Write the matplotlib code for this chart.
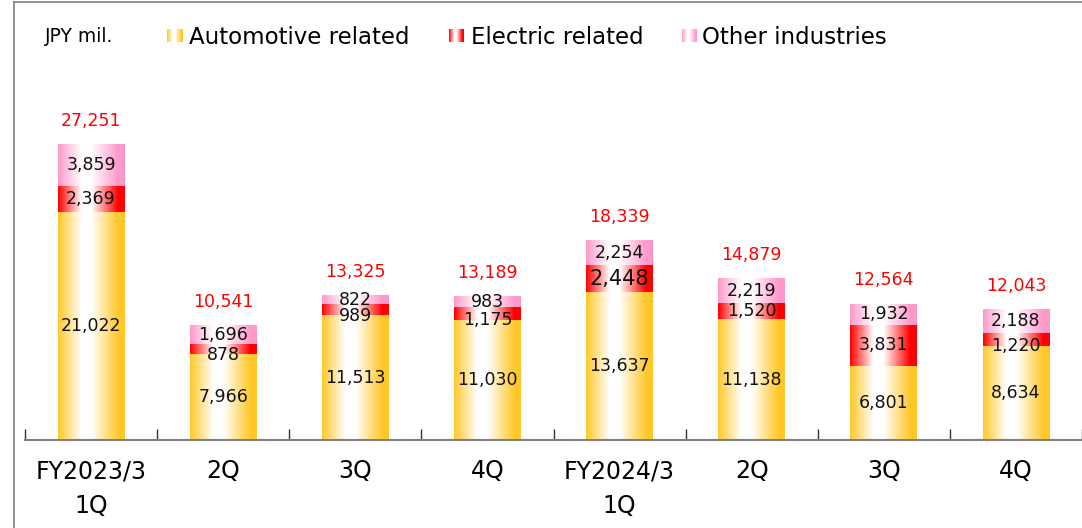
import numpy as np
import matplotlib
matplotlib.use("Agg")
import matplotlib.pyplot as plt
from matplotlib.colors import LinearSegmentedColormap
from matplotlib.lines import Line2D

# data (JPY mil.)
categories = ["FY2023/3\n1Q", "2Q", "3Q", "4Q", "FY2024/3\n1Q", "2Q", "3Q", "4Q"]
automotive = [21022, 7966, 11513, 11030, 13637, 11138, 6801, 8634]
electric = [2369, 878, 989, 1175, 2448, 1520, 3831, 1220]
other = [3859, 1696, 822, 983, 2254, 2219, 1932, 2188]
totals = [27251, 10541, 13325, 13189, 18339, 14879, 12564, 12043]

series_names = ["Automotive related", "Electric related", "Other industries"]
series_colors = ["#FFC82A", "#FF0000", "#FF99CC"]


def grad_cmap(c):
    return LinearSegmentedColormap.from_list(
        "g", [(0, c), (0.35, "white"), (0.5, "white"), (0.9, c), (1, c)])


grad = np.linspace(0, 1, 256).reshape(1, -1)

fig = plt.figure(figsize=(10.82, 5.28), dpi=100)
ax = fig.add_axes([25 / 1082, 88 / 528, 1057 / 1082, 380 / 528])

x = np.arange(len(categories))
width = 0.505
containers = []
bottom = np.zeros(len(categories))
for vals, col in zip([automotive, electric, other], series_colors):
    bc = ax.bar(x, vals, width, bottom=bottom, color="none", edgecolor="none")
    cmap = grad_cmap(col)
    for r in bc:
        x0, y0 = r.get_x(), r.get_y()
        ax.imshow(grad, cmap=cmap, aspect="auto", interpolation="bilinear",
                  extent=[x0, x0 + r.get_width(), y0, y0 + r.get_height()],
                  zorder=1)
    containers.append(bc)
    bottom += np.array(vals)

ax.set_xlim(-0.5, 7.477)
ax.set_ylim(0, 35000)

# segment labels
for k, (bc, vals) in enumerate(zip(containers, [automotive, electric, other])):
    texts = ax.bar_label(bc, labels=[f"{v:,}" for v in vals], label_type="center",
                         fontsize=12.5, color="#111111", zorder=3)
    for t, v in zip(texts, vals):
        if t.get_text() == "2,448":
            t.set_fontsize(15)
        # small electric segments: label sits a little lower, as in the original
        if k == 1 and v < 1300:
            t.xyann = (t.xyann[0], t.xyann[1] - 4.5)

# totals in red above each bar
for xi, top, tot in zip(x, bottom, totals):
    ax.annotate(f"{tot:,}", (xi, top), xytext=(0, 17), textcoords="offset points",
                ha="center", va="center", color="#FF0000", fontsize=12.5)

for s in ["left", "right", "top"]:
    ax.spines[s].set_visible(False)
ax.spines["bottom"].set_color("#7f7f7f")
ax.spines["bottom"].set_linewidth(1.5)
ax.set_yticks([])
ax.set_xticks(x)
ax.set_xticklabels(categories, fontsize=17, linespacing=1.55)
ax.tick_params(axis="x", length=0, pad=14)
ax.set_xticks(np.arange(-0.5, 8, 1), minor=True)
ax.tick_params(axis="x", which="minor", direction="in", length=8, width=1,
               color="#333333")

# frame around the chart area
fig.add_artist(Line2D([14 / 1082, 14 / 1082], [0, 1 - 2 / 528],
                      transform=fig.transFigure, color="#7f7f7f", lw=1.2))
fig.add_artist(Line2D([14 / 1082, 1], [1 - 2 / 528, 1 - 2 / 528],
                      transform=fig.transFigure, color="#7f7f7f", lw=1.2))

# legend drawn by hand
ly = 1 - 37 / 528
fig.text(45 / 1082, ly, "JPY mil.", fontsize=13.5, va="center", ha="left")
marker_x = [167, 449, 682]
text_x = [189, 471, 702]
for mx, tx, name, col in zip(marker_x, text_x, series_names, series_colors):
    max_ = fig.add_axes([mx / 1082, 1 - 42 / 528, 15 / 1082, 13 / 528])
    max_.imshow(grad, cmap=grad_cmap(col), aspect="auto", interpolation="bilinear")
    max_.axis("off")
    fig.text(tx / 1082, ly, name, fontsize=16.5, va="center", ha="left")

fig.savefig("out.png", dpi=100)
